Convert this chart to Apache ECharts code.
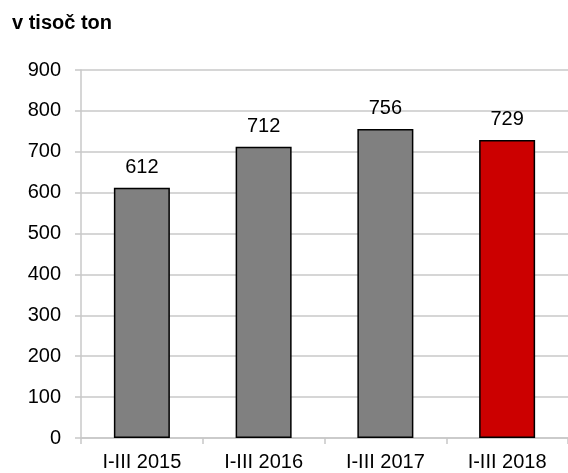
<!DOCTYPE html>
<html>
<head>
<meta charset="utf-8">
<script src="https://cdn.jsdelivr.net/npm/echarts@6/dist/echarts.min.js"></script>
<style>
  html, body { margin: 0; padding: 0; background: #fff; }
  #chart { width: 568px; height: 473px; }
</style>
</head>
<body>
<div id="chart"></div>
<script>
const categories = ["I-III 2015", "I-III 2016", "I-III 2017", "I-III 2018"];
const values = [612, 712, 756, 729];
const barColors = ["#808080", "#808080", "#808080", "#cc0000"];

const chart = echarts.init(document.getElementById("chart"));
chart.setOption({
  animation: false,
  textStyle: { fontFamily: "Liberation Sans, Arial, sans-serif" },
  title: {
    text: "v tisoč ton",
    left: 7,
    top: 8,
    textStyle: { fontSize: 20, fontWeight: "bold", color: "#000" }
  },
  grid: { left: 81, right: -2, top: 70, bottom: 35 },
  xAxis: {
    type: "category",
    data: categories,
    axisLine: { lineStyle: { color: "#c8c8c8", width: 1.5 } },
    axisTick: { show: true, length: 6, lineStyle: { color: "#c8c8c8", width: 1.5 } },
    axisLabel: { color: "#000", fontSize: 20, margin: 14 }
  },
  yAxis: {
    type: "value",
    min: 0,
    max: 900,
    interval: 100,
    axisLine: { show: true, lineStyle: { color: "#c8c8c8", width: 1.5 } },
    axisTick: { show: true, length: 6, lineStyle: { color: "#c8c8c8", width: 1.5 } },
    axisLabel: { color: "#000", fontSize: 20, margin: 20 },
    splitLine: { lineStyle: { color: "#c8c8c8", width: 1.5 } }
  },
  series: [{
    type: "bar",
    data: values.map((v, i) => ({ value: v, itemStyle: { color: barColors[i] } })),
    barWidth: 56,
    itemStyle: { borderColor: "#000", borderWidth: 1.5 },
    label: {
      show: true,
      position: "top",
      distance: 10,
      color: "#000",
      fontSize: 20
    }
  }]
});
</script>
</body>
</html>
